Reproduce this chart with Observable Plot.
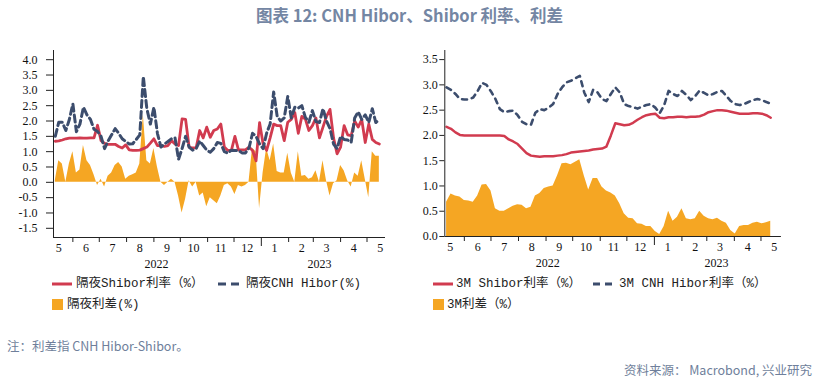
<!DOCTYPE html>
<html><head><meta charset="utf-8">
<script src="https://cdn.jsdelivr.net/npm/d3@7"></script>
<script src="https://cdn.jsdelivr.net/npm/@observablehq/plot@0.6"></script>
<style>
body{margin:0;background:#fff;}
#wrap{position:relative;width:819px;height:383px;overflow:hidden;font-family:"Noto Sans CJK SC",sans-serif;}
.title{position:absolute;left:0;top:4px;width:819px;text-align:center;font-size:16.5px;font-weight:700;color:#7486a3;line-height:22px;}
.chart{position:absolute;top:40px;}
.chart svg text{font-family:"Liberation Serif","Times New Roman",serif !important;font-size:12px;}
.leg{position:absolute;font-family:"Liberation Mono","Noto Sans CJK SC",monospace;font-size:12.5px;color:#222;white-space:nowrap;line-height:14px;}
.sw{position:absolute;}
.note{position:absolute;font-size:12.5px;color:#6f7f9b;white-space:nowrap;line-height:16px;}
</style></head>
<body><div id="wrap">
<div class="title">图表 12: CNH Hibor、Shibor 利率、利差</div>
<div id="left" class="chart" style="left:0px"></div>
<div id="right" class="chart" style="left:410px"></div>

<svg class="sw" style="left:52px;top:282px" width="20" height="4"><line x1="0" y1="2" x2="20" y2="2" stroke="#d13b4f" stroke-width="3"/></svg>
<div class="leg" style="left:76px;top:277px">隔夜Shibor利率（%）</div>
<svg class="sw" style="left:218px;top:282px" width="25" height="4"><line x1="0" y1="2" x2="25" y2="2" stroke="#3c4d6d" stroke-width="3" stroke-dasharray="8,5"/></svg>
<div class="leg" style="left:246px;top:277px">隔夜CNH Hibor(%)</div>
<svg class="sw" style="left:52px;top:299px" width="11" height="11"><rect width="11" height="11" fill="#f5a623"/></svg>
<div class="leg" style="left:67px;top:298px">隔夜利差(%)</div>

<svg class="sw" style="left:433px;top:282px" width="20" height="4"><line x1="0" y1="2" x2="20" y2="2" stroke="#d13b4f" stroke-width="3"/></svg>
<div class="leg" style="left:456px;top:277px">3M Shibor利率（%）</div>
<svg class="sw" style="left:593px;top:282px" width="22" height="4"><line x1="0" y1="2" x2="22" y2="2" stroke="#3c4d6d" stroke-width="3" stroke-dasharray="7,5"/></svg>
<div class="leg" style="left:619px;top:277px">3M CNH Hibor利率（%）</div>
<svg class="sw" style="left:433px;top:299px" width="11" height="11"><rect width="11" height="11" fill="#f5a623"/></svg>
<div class="leg" style="left:447px;top:298px">3M利差（%）</div>

<div class="note" style="left:7px;top:338px">注：利差指 CNH Hibor-Shibor。</div>
<div class="note" style="right:7px;top:362px">资料来源： Macrobond, 兴业研究</div>
</div>
<script>
// ---- Overnight (left panel), sampled every 4 days from 2022-05-12 ----
const shiborON = [1.34,1.35,1.38,1.42,1.44, 1.44,1.44,1.45,1.44,1.44, 1.45,1.45,1.86,1.36,1.27, 1.24,1.24,1.24,1.17,1.12,
  1.22,1.06,1.04,1.04,1.05, 1.10,1.15,1.28,1.42,1.20, 1.20,1.17,1.20,1.36,1.25, 1.20,2.07,2.05,1.15,1.12,
  1.13,1.69,1.45,1.80,1.47, 1.69,1.74,1.90,1.15,1.04, 1.04,1.50,1.06,1.06,1.06, 1.15,1.04,0.70,1.95,1.25,
  1.04,1.45,1.90,1.85,1.85, 1.36,1.96,2.05,2.28,1.60, 2.15,2.06,1.69,1.85,2.10, 1.45,1.80,2.15,2.38,1.45,
  0.93,1.15,1.85,1.55,1.52, 2.00,1.80,2.05,1.30,1.90, 1.40,1.30,1.25];
const hiborON = [1.50,1.96,1.96,1.69,2.05, 2.56,1.65,1.90,2.45,2.20, 2.05,1.73,1.66,1.50,1.10, 1.35,1.55,1.75,1.60,1.42,
  1.33,1.25,1.26,1.40,1.55, 3.45,2.40,1.90,2.45,1.60, 1.15,1.25,1.33,1.42,1.45, 0.75,1.10,1.50,1.15,1.05,
  1.10,1.35,1.20,1.05,0.98, 1.10,1.30,1.27,1.00,0.95, 1.05,1.04,1.04,0.96,0.96, 1.12,1.60,1.50,1.25,1.10,
  1.60,1.90,2.95,2.15,2.00, 2.10,2.80,2.10,2.45,2.42, 2.50,2.12,1.96,2.34,1.98, 1.95,2.40,2.00,1.75,1.25,
  1.10,1.50,1.40,1.38,1.30, 2.10,2.30,2.05,2.20,1.95, 2.40,1.95,2.05];
const spreadON = [0.05,0.70,0.60,0.00,0.60, 1.00,0.30,0.40,1.20,0.70, 0.55,0.25,-0.10,0.10,-0.15, 0.20,0.30,0.55,0.65,0.50,
  0.10,0.20,0.25,0.30,0.60, 2.20,0.70,0.60,1.10,0.50, 0.00,-0.10,0.00,0.10,0.00, -0.45,-1.00,-0.55,0.05,-0.15,
  0.00,-0.45,-0.35,-0.80,-0.50, -0.60,-0.70,-0.45,-0.10,-0.05, -0.15,-0.40,-0.10,-0.15,-0.10, 0.00,1.10,1.00,-0.85,0.30,
  1.10,0.70,1.25,0.35,0.30, 0.30,0.95,0.30,0.00,1.00, 0.20,0.22,0.10,0.15,0.38, 0.00,0.70,0.05,-0.45,-0.05,
  0.05,0.55,0.38,0.05,-0.15, 0.30,0.20,0.70,0.10,-0.50, 1.00,0.85,0.85];

// ---- 3M (right panel), sampled every 5 days from 2022-05-12 ----
const shibor3M = [2.17,2.13,2.06,2.01,2.00, 2.00,2.00,2.00,2.00,2.00, 2.00,2.00,2.00,1.99,1.92, 1.88,1.83,1.74,1.65,1.60,
  1.59,1.58,1.59,1.59,1.59, 1.60,1.61,1.63,1.66,1.67, 1.68,1.69,1.70,1.72,1.73, 1.74,1.78,2.00,2.24,2.22,
  2.20,2.21,2.25,2.31,2.36, 2.40,2.42,2.43,2.35,2.34, 2.36,2.36,2.37,2.37,2.36, 2.37,2.37,2.38,2.41,2.46,
  2.48,2.50,2.50,2.49,2.47, 2.45,2.43,2.43,2.43,2.44, 2.44,2.43,2.40,2.35];
const hibor3M = [2.95,2.90,2.82,2.72,2.71, 2.71,2.75,2.88,3.04,3.00, 2.87,2.72,2.52,2.46,2.48, 2.49,2.40,2.27,2.22,2.21,
  2.45,2.52,2.50,2.55,2.62, 2.82,2.95,3.05,3.08,3.13, 3.18,2.85,2.66,2.90,2.85, 2.72,2.68,2.82,2.95,2.85,
  2.62,2.58,2.56,2.53,2.57, 2.60,2.62,2.55,2.44,2.60, 2.88,2.82,2.78,2.88,2.80, 2.70,2.78,2.89,2.84,2.79,
  2.82,2.86,2.88,2.78,2.68, 2.62,2.60,2.62,2.66,2.70, 2.72,2.70,2.66,2.63];
const spread3M = [0.68,0.84,0.80,0.78,0.71, 0.70,0.68,0.80,1.02,1.03, 0.90,0.55,0.50,0.50,0.55, 0.60,0.63,0.62,0.55,0.58,
  0.80,0.85,0.95,0.98,1.00, 1.20,1.44,1.45,1.42,1.47, 1.52,1.20,0.92,1.15,1.15, 0.98,0.90,0.86,0.80,0.65,
  0.45,0.36,0.35,0.25,0.24, 0.20,0.20,0.10,0.04,0.20, 0.50,0.30,0.38,0.55,0.35, 0.33,0.35,0.50,0.40,0.35,
  0.33,0.36,0.30,0.26,0.12, 0.05,0.20,0.22,0.22,0.26, 0.28,0.25,0.27,0.30];

// ---- tick labels ----
const monthLabels = ["5","6","7","8","9","10","11","12","1","2","3","4","5"];
const yearLabels = ["2022","2023"];
const yTicksLeft = [-1.5,-1.0,-0.5,0,0.5,1.0,1.5,2.0,2.5,3.0,3.5,4.0];
const yTicksRight = [0,0.5,1.0,1.5,2.0,2.5,3.0,3.5];

const parse = d3.utcParse("%Y-%m-%d");
const startDate = parse("2022-05-12");
const leftData = shiborON.map((v,i)=>({date:d3.utcDay.offset(startDate,4*i), shibor:v, hibor:hiborON[i], spread:spreadON[i]}));
const rightData = shibor3M.map((v,i)=>({date:d3.utcDay.offset(startDate,5*i), shibor:v, hibor:hibor3M[i], spread:spread3M[i]}));

const monthTicks = d3.utcMonth.range(parse("2022-06-01"), parse("2023-05-02")).filter(d=>d.getUTCMonth()!==0);
const yearTick = [parse("2023-01-01")];
const monthMid = d3.utcMonth.range(parse("2022-05-01"), parse("2023-05-02")).map(d=>d3.utcDay.offset(d,15));

function panel({data, width, marginLeft, marginRight, marginBottom, xDomain, yDomain, yTicks, tickSize, tickPadding, yearDates, lineW, dashH, dashW}) {
  return Plot.plot({
    width, height: 235, marginLeft, marginRight, marginTop: 10, marginBottom,
    style: {background: "transparent", fontFamily: "'Liberation Serif', serif", fontSize: "12px", color: "#111", overflow: "visible"},
    x: {type: "utc", domain: xDomain},
    y: {domain: yDomain},
    marks: [
      Plot.areaY(data, {x: "date", y: "spread", fill: "#f5a623"}),
      Plot.lineY(data, {x: "date", y: "shibor", stroke: "#d13b4f", strokeWidth: lineW}),
      Plot.lineY(data, {x: "date", y: "hibor", stroke: "#3c4d6d", strokeWidth: dashW, strokeDasharray: dashH}),
      Plot.ruleX([xDomain[0]], {stroke: "#222"}),
      Plot.ruleY([yDomain[0]], {stroke: "#222"}),
      Plot.axisY({ticks: yTicks, tickSize, tickPadding, tickFormat: d => d.toFixed(1), label: null, stroke: "#222", fill: "#111"}),
      Plot.axisX({ticks: monthTicks, tickSize: 5, tickFormat: () => "", label: null, stroke: "#222"}),
      Plot.axisX({ticks: yearTick, tickSize: 9, tickFormat: () => "", label: null, stroke: "#222"}),
      Plot.text(monthMid, {x: d => d, text: (d, i) => monthLabels[i], frameAnchor: "bottom", dy: 14, fill: "#111"}),
      Plot.text(yearDates, {x: d => d, text: (d, i) => yearLabels[i], frameAnchor: "bottom", dy: 30, fill: "#111"})
    ]
  });
}

document.getElementById("left").append(panel({
  data: leftData, width: 410, marginLeft: 53, marginRight: 25, marginBottom: 38,
  xDomain: [parse("2022-05-10"), parse("2023-05-22")], yDomain: [-1.8, 4.3], yTicks: yTicksLeft,
  tickSize: 7, tickPadding: 9, yearDates: [parse("2022-09-04"), parse("2023-03-08")],
  lineW: 2.8, dashH: "7,4", dashW: 3
}));
document.getElementById("right").append(panel({
  data: rightData, width: 409, marginLeft: 34.3, marginRight: 38.1, marginBottom: 39,
  xDomain: [parse("2022-05-10"), parse("2023-05-24")], yDomain: [0, 3.68], yTicks: yTicksRight,
  tickSize: 5, tickPadding: 2, yearDates: [parse("2022-09-03"), parse("2023-03-12")],
  lineW: 2.5, dashH: "5,5", dashW: 2.6
}));
</script>
</body></html>
